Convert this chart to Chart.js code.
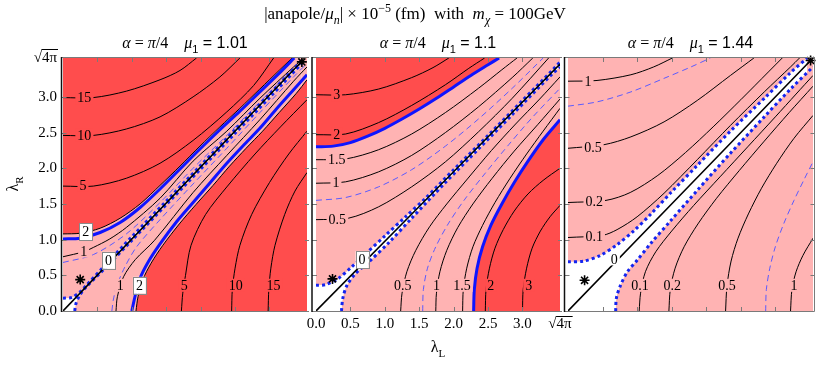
<!DOCTYPE html>
<html>
<head>
<meta charset="utf-8">
<script src="https://cdn.jsdelivr.net/npm/chart.js@4.4.1/dist/chart.umd.min.js"></script>
<style>
  html, body { margin: 0; padding: 0; background: #fff; }
  #wrap { position: relative; width: 830px; height: 367px; }
  #wrap canvas { position: absolute; left: 0; top: 0; }
</style>
</head>
<body>
<div id="wrap">
  <canvas id="p1" width="830" height="367"></canvas>
  <canvas id="p2" width="830" height="367"></canvas>
  <canvas id="p3" width="830" height="367"></canvas>
</div>
<script>
// axes: lambda_L (x) and lambda_R (y), both 0 .. sqrt(4 pi)
const S4P = Math.sqrt(4 * Math.PI);
const tickVals = [0, 0.5, 1, 1.5, 2, 2.5, 3, S4P];
const tickText = ["0.0", "0.5", "1.0", "1.5", "2.0", "2.5", "3.0", "√4π"];
const mu1Values = ["1.01", "1.1", "1.44"];

//  panel 1 : mu1 = 1.01  (contour points [lambda_L, lambda_R])
const p1Red2Up = [[0,1.08],[0.25,1.09],[0.54,1.16],[0.83,1.30],[1.12,1.50],[1.41,1.76],[1.70,2.03],[1.99,2.31],[2.28,2.58],[2.57,2.84],[2.86,3.11],[3.15,3.38],[3.33,3.545]];
const p1Blue2Up = [[0,1.01],[0.25,1.02],[0.54,1.10],[0.83,1.24],[1.12,1.45],[1.41,1.71],[1.70,1.99],[1.99,2.27],[2.28,2.54],[2.57,2.80],[2.86,3.07],[3.15,3.34],[3.36,3.545]];
const p1C15Up = [[0,2.99],[0.44,2.99],[0.92,3.08],[1.41,3.24],[1.70,3.37],[1.94,3.545]];
const p1C10Up = [[0,2.46],[0.44,2.46],[0.92,2.55],[1.41,2.72],[1.89,3.0],[2.28,3.28],[2.57,3.545]];
const p1C5Up = [[0,1.75],[0.44,1.75],[0.92,1.86],[1.41,2.07],[1.89,2.39],[2.38,2.79],[2.77,3.16],[3.06,3.545]];
const p1C1Up = [[0,0.76],[0.30,0.83],[0.44,0.89],[0.68,1.01],[0.92,1.17],[1.41,1.58],[1.89,2.10],[2.38,2.52],[2.86,2.98],[3.35,3.42],[3.50,3.545]];
const p1DashUp = [[0,0.68],[0.44,0.79],[0.92,1.08],[1.41,1.52],[1.89,2.0],[2.38,2.46],[2.86,2.93],[3.35,3.40]];
const p1Zero = [[0,0],[3.47,3.50]];
const p1DotUp = [[0,0.18],[0.13,0.19],[0.25,0.27],[0.34,0.36],[0.6,0.63],[1.0,1.04],[1.5,1.54],[2.0,2.04],[2.5,2.54],[3.0,3.04],[3.47,3.51]];
const p1DotLo = [[0.17,0],[0.19,0.11],[0.25,0.23],[0.33,0.33],[0.6,0.59],[1.0,0.99],[1.5,1.49],[2.0,1.99],[2.5,2.49],[3.0,2.99],[3.47,3.47]];
const p1DashLo = [[0.71,0],[0.73,0.15],[0.78,0.35],[0.90,0.62],[1.07,0.90],[1.41,1.28],[1.89,1.78],[2.38,2.28],[2.86,2.78],[3.35,3.28],[3.545,3.47]];
const p1C1Lo = [[0.77,0],[0.79,0.2],[0.88,0.48],[1.05,0.72],[1.33,0.99],[1.89,1.66],[2.38,2.18],[2.86,2.68],[3.35,3.22],[3.545,3.42]];
const p1Blue2Lo = [[1.0,0],[1.05,0.22],[1.12,0.46],[1.24,0.69],[1.41,0.94],[1.65,1.25],[1.89,1.52],[2.14,1.80],[2.38,2.07],[2.62,2.32],[2.86,2.56],[3.10,2.83],[3.35,3.10],[3.545,3.31]];
const p1Red2Lo = [[1.06,0],[1.09,0.2],[1.16,0.44],[1.28,0.67],[1.45,0.92],[1.69,1.22],[1.93,1.49],[2.18,1.76],[2.42,2.03],[2.66,2.28],[2.90,2.52],[3.14,2.78],[3.39,3.05],[3.545,3.24]];
const p1C5Lo = [[1.72,0],[1.74,0.25],[1.78,0.5],[1.86,0.92],[2.07,1.35],[2.39,1.75],[2.79,2.20],[3.16,2.58],[3.545,2.96]];
const p1C10Lo = [[2.45,0],[2.46,0.3],[2.50,0.6],[2.57,0.92],[2.74,1.35],[3.0,1.80],[3.28,2.20],[3.545,2.52]];
const p1C15Lo = [[2.98,0],[2.99,0.3],[3.02,0.6],[3.08,0.92],[3.22,1.35],[3.37,1.68],[3.545,1.94]];
const p1Stars = [[0.25,0.44],[3.47,3.49]];
const p1Labels = [["15",0.31,2.99,"r"],["10",0.31,2.46,"r"],["5",0.29,1.76,"r"],["2",0.33,1.11,"b"],["1",0.30,0.84,"p"],["0",0.66,0.71,"b"],
  ["1",0.83,0.36,"p"],["2",1.11,0.36,"b"],["5",1.76,0.36,"r"],["10",2.51,0.36,"r"],["15",3.06,0.36,"r"]];

//  panel 2 : mu1 = 1.1
const p2Blue2Up = [[0,2.30],[0.25,2.31],[0.5,2.36],[0.75,2.45],[1.0,2.56],[1.25,2.69],[1.5,2.83],[1.75,2.98],[2.0,3.14],[2.25,3.30],[2.5,3.45],[2.66,3.545]];
const p2C3Up = [[0,3.03],[0.43,3.03],[0.91,3.11],[1.39,3.27],[1.70,3.41],[1.93,3.545]];
const p2C2Up = [[0,2.47],[0.43,2.48],[0.91,2.64],[1.39,2.88],[1.88,3.17],[2.22,3.40],[2.45,3.545]];
const p2C15Up = [[0,2.12],[0.43,2.13],[0.91,2.26],[1.39,2.48],[1.88,2.78],[2.36,3.12],[2.70,3.38],[2.92,3.545]];
const p2C1Up = [[0,1.79],[0.43,1.81],[0.91,1.95],[1.39,2.18],[1.88,2.50],[2.36,2.86],[2.85,3.27],[3.15,3.545]];
const p2DashUp = [[0,1.55],[0.43,1.59],[0.91,1.74],[1.39,1.98],[1.88,2.31],[2.36,2.69],[2.85,3.12],[3.30,3.545]];
const p2C05Up = [[0,1.28],[0.47,1.30],[0.91,1.46],[1.39,1.74],[1.88,2.09],[2.36,2.51],[2.85,2.98],[3.38,3.545]];
const p2Zero = [[0,0],[3.545,3.46]];
const p2DotUp = [[0,0.36],[0.14,0.37],[0.33,0.46],[0.52,0.62],[0.72,0.80],[1.01,1.06],[1.30,1.32],[1.59,1.58],[2.0,1.98],[2.5,2.46],[3.0,2.95],[3.45,3.39],[3.545,3.49]];
const p2DotLo = [[0.37,0],[0.39,0.18],[0.45,0.36],[0.57,0.52],[0.77,0.69],[1.06,0.96],[1.39,1.30],[1.88,1.80],[2.36,2.27],[2.85,2.75],[3.43,3.32],[3.545,3.42]];
const p2C05Lo = [[1.23,0],[1.25,0.25],[1.32,0.55],[1.45,0.85],[1.65,1.18],[1.90,1.50],[2.20,1.85],[2.55,2.25],[2.90,2.62],[3.25,2.97],[3.545,3.28]];
const p2DashLo = [[1.55,0],[1.56,0.3],[1.62,0.6],[1.74,0.9],[1.92,1.22],[2.15,1.55],[2.45,1.92],[2.80,2.33],[3.15,2.72],[3.545,3.12]];
const p2C1Lo = [[1.74,0],[1.75,0.25],[1.80,0.55],[1.90,0.85],[2.06,1.17],[2.28,1.50],[2.56,1.86],[2.88,2.24],[3.22,2.61],[3.545,2.97]];
const p2C15Lo = [[2.13,0],[2.14,0.3],[2.19,0.6],[2.28,0.9],[2.42,1.2],[2.60,1.52],[2.82,1.86],[3.06,2.2],[3.30,2.52],[3.545,2.84]];
const p2Blue2Lo = [[2.29,0],[2.30,0.3],[2.34,0.6],[2.42,0.9],[2.54,1.2],[2.70,1.5],[2.88,1.8],[3.08,2.1],[3.30,2.40],[3.545,2.68]];
const p2C2Lo = [[2.46,0],[2.47,0.3],[2.52,0.6],[2.60,0.88],[2.72,1.14],[2.88,1.40],[3.08,1.64],[3.30,1.83],[3.545,2.0]];
const p2C3Lo = [[3.0,0],[3.01,0.3],[3.06,0.6],[3.14,0.88],[3.26,1.12],[3.40,1.32],[3.545,1.48]];
const p2Stars = [[0.24,0.45]];
const p2Labels = [["3",0.30,3.03,"r"],["2",0.30,2.48,"r"],["1.5",0.30,2.12,"p"],["1",0.29,1.80,"p"],["0.5",0.31,1.29,"p"],["0",0.67,0.72,"b"],
  ["0.5",1.26,0.36,"p"],["1",1.75,0.36,"p"],["1.5",2.12,0.36,"p"],["2",2.54,0.36,"r"],["3",3.09,0.36,"r"]];

//  panel 3 : mu1 = 1.44
const p3DotUp = [[0,0.69],[0.23,0.70],[0.47,0.78],[0.71,0.93],[0.96,1.13],[1.20,1.36],[1.49,1.66],[1.87,2.04],[2.35,2.52],[2.84,2.98],[3.22,3.34],[3.46,3.545]];
const p3DotLo = [[0.69,0],[0.70,0.18],[0.76,0.36],[0.86,0.55],[1.0,0.71],[1.20,0.95],[1.49,1.27],[1.87,1.69],[2.35,2.21],[2.84,2.72],[3.22,3.11],[3.545,3.42]];
const p3Zero = [[0,0],[3.51,3.51]];
const p3C1Up = [[0,3.22],[0.42,3.23],[0.91,3.31],[1.24,3.42],[1.51,3.545]];
const p3DashUp = [[0,2.87],[0.42,2.93],[0.91,3.07],[1.39,3.26],[1.78,3.42],[2.06,3.545]];
const p3C05Up = [[0,2.28],[0.52,2.33],[0.91,2.44],[1.39,2.65],[1.87,2.95],[2.35,3.30],[2.69,3.545]];
const p3C02Up = [[0,1.52],[0.55,1.55],[0.9,1.66],[1.3,1.90],[1.7,2.22],[2.1,2.58],[2.5,2.96],[2.9,3.35],[3.1,3.545]];
const p3C01Up = [[0,1.03],[0.50,1.06],[0.71,1.14],[1.0,1.32],[1.39,1.65],[1.87,2.12],[2.35,2.60],[2.84,3.07],[3.22,3.42],[3.35,3.545]];
const p3C01Lo = [[1.03,0],[1.05,0.25],[1.12,0.55],[1.27,0.83],[1.50,1.12],[1.82,1.48],[2.2,1.88],[2.6,2.30],[3.0,2.72],[3.3,3.04],[3.545,3.30]];
const p3C02Lo = [[1.46,0],[1.48,0.3],[1.55,0.6],[1.68,0.9],[1.88,1.22],[2.15,1.58],[2.48,1.97],[2.84,2.38],[3.2,2.78],[3.545,3.15]];
const p3C05Lo = [[2.28,0],[2.30,0.35],[2.36,0.7],[2.46,1.02],[2.61,1.36],[2.80,1.72],[3.02,2.07],[3.27,2.42],[3.545,2.74]];
const p3DashLo = [[2.86,0],[2.87,0.3],[2.92,0.6],[3.0,0.9],[3.12,1.22],[3.27,1.55],[3.42,1.85],[3.545,2.09]];
const p3C1Lo = [[3.22,0],[3.24,0.3],[3.30,0.55],[3.40,0.78],[3.545,1.02]];
const p3Stars = [[0.24,0.43],[3.51,3.51]];
const p3Labels = [["1",0.29,3.22,"p"],["0.5",0.36,2.29,"p"],["0.2",0.38,1.53,"p"],["0.1",0.38,1.04,"p"],["0",0.67,0.73,"w"],
  ["0.1",1.04,0.36,"p"],["0.2",1.51,0.36,"p"],["0.5",2.30,0.36,"p"],["1",3.27,0.36,"p"]];

const RED = "rgb(255,77,77)";
const PINK = "rgb(255,179,179)";
const WHITE = "#ffffff";

const STY = {
  black: { borderColor: "#000", borderWidth: 1 },
  zero: { borderColor: "#000", borderWidth: 1.6 },
  blue: { borderColor: "#0f14ff", borderWidth: 3 },
  dash: { borderColor: "#5b5bff", borderWidth: 1, borderDash: [6, 4] },
  dot: { borderColor: "#1424f0", borderWidth: 3, borderDash: [3, 3] },
};
const ORDER = { dash: 6, black: 5, blue: 4, dot: 3, zero: 2 };

const toPts = (a) => a.map((p) => ({ x: p[0], y: p[1] }));

function ds(arr, st) {
  return Object.assign({ data: toPts(arr), showLine: true, pointRadius: 0, tension: 0.3, fill: false,
    borderCapStyle: "butt", order: ORDER[st], clip: 0 }, STY[st]);
}
function fillDs(arr, target, color, order) {
  return { data: toPts(arr), showLine: true, pointRadius: 0, tension: 0.3, fill: target,
    backgroundColor: color, borderColor: "rgba(0,0,0,0)", borderWidth: 0, order: order, clip: 0 };
}
function starDs(arr) {
  return { data: toPts(arr), showLine: false, pointStyle: "star", pointRadius: 5,
    borderColor: "#000", borderWidth: 1.6, order: 0, clip: false };
}

// rich text : [text, flags]  i=italic b=subscript p=superscript s=sans
function rich(ctx, parts, x, y, size) {
  const items = parts.map(([t, f]) => {
    const small = f.includes("b") || f.includes("p");
    const s = small ? Math.round(size * 0.7) : size;
    ctx.font = (f.includes("i") ? "italic " : "") + s + "px " + (f.includes("s") ? '"Liberation Sans"' : '"Liberation Serif"');
    return { t, font: ctx.font, w: ctx.measureText(t).width,
      dy: f.includes("b") ? size * 0.3 : f.includes("p") ? -size * 0.42 : 0 };
  });
  const total = items.reduce((s, it) => s + it.w, 0);
  let cx = x - total / 2;
  ctx.textAlign = "left";
  ctx.textBaseline = "alphabetic";
  ctx.fillStyle = "#000";
  for (const it of items) {
    ctx.font = it.font;
    ctx.fillText(it.t, cx, y + it.dy);
    cx += it.w;
  }
}

const PANEL = {
  p1: { frameX: 61.5, rightFrame: false, mu: mu1Values[0], labels: p1Labels, yTitle: true },
  p2: { frameX: 312, rightFrame: false, mu: mu1Values[1], labels: p2Labels, xTitle: true, main: true },
  p3: { frameX: 564.5, rightFrame: true, mu: mu1Values[2], labels: p3Labels },
};

const panelPlugin = {
  id: "panel",
  beforeDraw(chart) {
    const { ctx, chartArea: a } = chart;
    ctx.save();
    ctx.fillStyle = PINK;
    ctx.fillRect(a.left, a.top, a.right - a.left, a.bottom - a.top);
    ctx.restore();
  },
  afterDatasetsDraw(chart) {
    const P = PANEL[chart.canvas.id];
    const { ctx } = chart;
    const xs = chart.scales.x, ys = chart.scales.y;
    ctx.save();
    ctx.font = '14px "Liberation Serif"';
    ctx.textAlign = "center";
    ctx.textBaseline = "middle";
    for (const [t, vx, vy, k] of P.labels) {
      const px = xs.getPixelForValue(vx), py = ys.getPixelForValue(vy);
      const w = ctx.measureText(t).width + 4, h = 15;
      if (k === "b") {
        ctx.fillStyle = "#fff";
        ctx.fillRect(px - w / 2 - 1, py - h / 2 - 1, w + 2, h + 2);
        ctx.strokeStyle = "#8a8a8a";
        ctx.lineWidth = 1;
        ctx.strokeRect(Math.round(px - w / 2 - 1) + 0.5, Math.round(py - h / 2 - 1) + 0.5, Math.round(w + 2), h + 2);
      } else {
        ctx.fillStyle = k === "r" ? RED : k === "p" ? PINK : WHITE;
        ctx.fillRect(px - w / 2, py - h / 2 + 1, w, h - 2);
      }
      ctx.fillStyle = "#000";
      ctx.fillText(t, px, py + 1);
    }
    ctx.restore();
  },
  afterDraw(chart) {
    const P = PANEL[chart.canvas.id];
    const { ctx, chartArea: a } = chart;
    const xs = chart.scales.x, ys = chart.scales.y;
    ctx.save();
    // frame
    ctx.strokeStyle = "#7a7a7a";
    ctx.lineWidth = 1;
    const right = P.rightFrame ? a.right + 1.5 : a.right + 2;
    ctx.beginPath();
    ctx.moveTo(P.frameX, a.top - 0.5); ctx.lineTo(right, a.top - 0.5);
    ctx.moveTo(P.frameX, a.bottom + 0.5); ctx.lineTo(right, a.bottom + 0.5);
    if (P.rightFrame) { ctx.moveTo(right, a.top - 0.5); ctx.lineTo(right, a.bottom + 0.5); }
    for (const v of tickVals.slice(1, 7)) {
      const x = Math.round(xs.getPixelForValue(v)) + 0.5;
      const y = Math.round(ys.getPixelForValue(v)) + 0.5;
      ctx.moveTo(x, a.top); ctx.lineTo(x, a.top + 4);
      ctx.moveTo(x, a.bottom); ctx.lineTo(x, a.bottom - 4);
      ctx.moveTo(P.frameX, y); ctx.lineTo(P.frameX + 5, y);
      ctx.moveTo(right, y); ctx.lineTo(right - 4, y);
    }
    ctx.stroke();
    ctx.strokeStyle = "#111";
    ctx.lineWidth = 1.5;
    ctx.beginPath();
    ctx.moveTo(P.frameX, a.top - 1); ctx.lineTo(P.frameX, a.bottom + 1);
    ctx.stroke();

    // overline of the sqrt(4 pi) tick label
    ctx.font = '15px "Liberation Serif"';
    ctx.strokeStyle = "#000";
    ctx.lineWidth = 1;
    const wAll = ctx.measureText("√4π").width, wIn = ctx.measureText("4π").width;
    if (chart.options.scales.y.display) {
      const r = a.left - 6, y = Math.round(ys.getPixelForValue(S4P)) - 8.5;
      ctx.beginPath(); ctx.moveTo(r - wIn - 0.5, y); ctx.lineTo(r + 1, y); ctx.stroke();
    }
    if (chart.options.scales.x.display) {
      const c = xs.getPixelForValue(S4P), y = a.bottom + 5.5;
      ctx.beginPath(); ctx.moveTo(c + wAll / 2 - wIn - 0.5, y); ctx.lineTo(c + wAll / 2 + 1, y); ctx.stroke();
    }

    // titles
    const cx = (a.left + a.right) / 2;
    rich(ctx, [["α", "i"], [" = ", ""], ["π", "i"], ["/4    ", ""], ["μ", "i"], ["1", "bs"], [" = " + P.mu, "s"]], cx, 48, 16);
    if (P.main) {
      rich(ctx, [["|anapole/", ""], ["μ", "i"], ["n", "ib"], ["| × 10", ""], ["−5", "p"], [" (fm)  with  ", ""],
        ["m", "i"], ["χ", "ib"], [" = 100GeV", ""]], 415, 19, 17);
    }
    if (P.xTitle) rich(ctx, [["λ", ""], ["L", "b"]], cx, 352, 16);
    if (P.yTitle) {
      ctx.translate(18, 184);
      ctx.rotate(-Math.PI / 2);
      rich(ctx, [["λ", ""], ["R", "b"]], 0, 0, 16);
    }
    ctx.restore();
  },
};

function axis(show, isX) {
  return {
    type: "linear", min: 0, max: S4P, display: show,
    grid: { display: false, drawTicks: false },
    border: { display: false },
    ticks: { autoSkip: false, maxRotation: 0, color: "#000", padding: isX ? 4 : 6,
      font: { family: "Liberation Serif", size: 15 },
      callback: (v, i) => tickText[i] },
    afterBuildTicks: (s) => { s.ticks = tickVals.map((v) => ({ value: v })); },
    afterFit: (s) => {
      if (!show) { s.width = 0; s.height = 0; return; }
      if (isX) s.height = 40; else s.width = 44;
    },
  };
}

function makeChart(id, pad, showX, showY, datasets) {
  return new Chart(document.getElementById(id), {
    type: "scatter",
    data: { datasets: datasets },
    options: {
      responsive: false, animation: false, devicePixelRatio: 1, events: [],
      layout: { padding: pad },
      scales: { x: axis(showX, true), y: axis(showY, false) },
      plugins: { legend: { display: false }, tooltip: { enabled: false }, filler: { drawTime: "beforeDatasetsDraw" } },
    },
    plugins: [panelPlugin],
  });
}

makeChart("p1", { left: 19, right: 523, top: 58, bottom: 56 }, false, true, [
  fillDs(p1DotUp, "start", WHITE, 12),
  fillDs(p1DotLo, "start", PINK, 11),
  fillDs(p1Red2Up, "end", RED, 10),
  fillDs(p1Red2Lo, "start", RED, 10),
  ds(p1C15Up, "black"), ds(p1C10Up, "black"), ds(p1C5Up, "black"), ds(p1Red2Up, "black"),
  ds(p1C1Up, "black"), ds(p1DashUp, "dash"), ds(p1Blue2Up, "blue"),
  ds(p1DashLo, "dash"), ds(p1C1Lo, "black"), ds(p1Blue2Lo, "blue"), ds(p1Red2Lo, "black"),
  ds(p1C5Lo, "black"), ds(p1C10Lo, "black"), ds(p1C15Lo, "black"),
  ds(p1DotUp, "dot"), ds(p1DotLo, "dot"), ds(p1Zero, "zero"),
  starDs(p1Stars),
]);

makeChart("p2", { left: 316, right: 270, top: 58, bottom: 16 }, true, false, [
  fillDs(p2DotUp, "start", WHITE, 12),
  fillDs(p2DotLo, "start", PINK, 11),
  fillDs(p2Blue2Up, "end", RED, 10),
  fillDs(p2Blue2Lo, "start", RED, 10),
  ds(p2C3Up, "black"), ds(p2C2Up, "black"), ds(p2C15Up, "black"), ds(p2C1Up, "black"),
  ds(p2DashUp, "dash"), ds(p2C05Up, "black"), ds(p2Blue2Up, "blue"),
  ds(p2C05Lo, "black"), ds(p2DashLo, "dash"), ds(p2C1Lo, "black"), ds(p2C15Lo, "black"),
  ds(p2Blue2Lo, "blue"), ds(p2C2Lo, "black"), ds(p2C3Lo, "black"),
  ds(p2DotUp, "dot"), ds(p2DotLo, "dot"), ds(p2Zero, "zero"),
  starDs(p2Stars),
]);

makeChart("p3", { left: 568, right: 17, top: 58, bottom: 56 }, false, false, [
  fillDs(p3DotUp, "start", WHITE, 12),
  fillDs(p3DotLo, "start", PINK, 11),
  ds(p3C1Up, "black"), ds(p3DashUp, "dash"), ds(p3C05Up, "black"), ds(p3C02Up, "black"), ds(p3C01Up, "black"),
  ds(p3C01Lo, "black"), ds(p3C02Lo, "black"), ds(p3C05Lo, "black"), ds(p3DashLo, "dash"), ds(p3C1Lo, "black"),
  ds(p3DotUp, "dot"), ds(p3DotLo, "dot"), ds(p3Zero, "zero"),
  starDs(p3Stars),
]);
</script>
</body>
</html>
